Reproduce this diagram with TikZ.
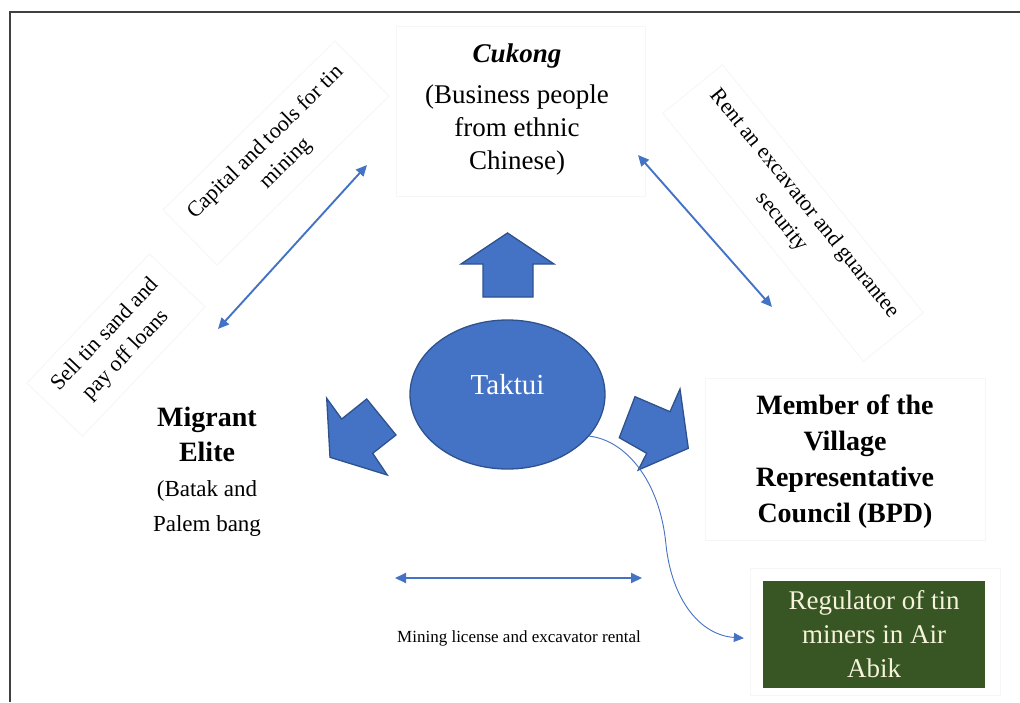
\documentclass[tikz,border=0pt]{standalone}
\usepackage{fontspec}
\setmainfont{Liberation Serif}
\usetikzlibrary{arrows.meta,shapes.geometric}
\definecolor{offblue}{HTML}{4472C4}
\definecolor{navyline}{HTML}{2F528F}
\definecolor{darkgreen}{HTML}{375623}
\definecolor{cream}{HTML}{F6F2DC}
\definecolor{faint}{HTML}{F6F6F6}
\tikzset{
  fs/.style 2 args={font=\fontsize{#1}{#2}\selectfont},
  faintbox/.style={draw=faint, line width=0.8pt},
  blocky/.style={fill=offblue, draw=navyline, line width=1.3pt, line join=miter},
  dblarrow/.style={draw=offblue, line width=1.9pt, {Triangle[length=11pt,width=10pt]}-{Triangle[length=11pt,width=10pt]}},
  thinarrow/.style={draw=offblue, line width=0.9pt, -{Triangle[length=10pt,width=9pt]}},
  difflabel/.style={align=center, fs={22}{29}, faintbox, inner xsep=16pt, inner ysep=14pt},
}
\begin{document}
\begin{tikzpicture}[x=1pt,y=-1pt]
\useasboundingbox (0,0) rectangle (1020,702);
\fill[white] (0,0) rectangle (1020,702);
% frame
\draw[line width=2pt, black!75] (9.5,702) -- (9.5,11.5) -- (1020,11.5);

% faint text boxes
\draw[faintbox] (396,26) rectangle (645,196);
\draw[faintbox] (705,378) rectangle (985,540);
\draw[faintbox] (750,568) rectangle (1000,695);

% main text nodes
\node[align=center, fs={27}{33}] (cukong) at (517,110)
  {\textbf{\textit{Cukong}}\\[8pt](Business people\\from ethnic\\Chinese)};
\node[align=center, fs={28}{35}] (migrant) at (207,472)
  {\textbf{Migrant}\\\textbf{Elite}\\{\fontsize{23}{35}\selectfont (Batak and}\\{\fontsize{23}{35}\selectfont Palem bang}};
\node[align=center, font=\bfseries\fontsize{28}{36}\selectfont] (member) at (845,462)
  {Member of the\\Village\\Representative\\Council (BPD)};
\node[align=center, fill=darkgreen, text=cream, minimum width=222pt, minimum height=107pt, inner sep=0pt, fs={27}{34}] (regulator) at (874,634.5)
  {Regulator of tin\\miners in Air\\Abik};

% Taktui ellipse
\node[ellipse, fill=offblue, draw=navyline, line width=1.3pt, minimum width=195pt, minimum height=149pt, inner sep=0pt, text=white, fs={29}{34}] (taktui) at (507.5,394.5)
  {\raisebox{0pt}[0pt][0pt]{Taktui}};

% block arrows
\draw[blocky] (507.5,233) -- (554,264) -- (533,264) -- (533,297) -- (483,297) -- (483,264) -- (461,264) -- cycle;
\draw[blocky] (330,457.3) -- (326.7,398.3) -- (341.7,419) -- (366.7,399) -- (396,435) -- (372.7,453.3) -- (387.3,475) -- cycle;
\draw[blocky] (688.3,448.3) -- (638.3,470) -- (646.7,453.3) -- (619.3,437.7) -- (635,396.7) -- (670,411.7) -- (680,389) -- cycle;

% rotated labels
\node[difflabel, rotate=44.5] (capital) at (276,153) {Capital and tools for tin\\mining};
\node[difflabel, rotate=46.5] (sell) at (116,345) {Sell tin sand and\\pay off loans};
\node[difflabel, rotate=-51] (rent) at (793,213) {Rent an excavator and guarantee\\security};

% double arrows
\coordinate (la) at (218,329);
\coordinate (lb) at (367,165);
\draw[dblarrow] (la) -- (lb);
\coordinate (ra) at (638,155);
\coordinate (rb) at (772,307);
\draw[dblarrow] (ra) -- (rb);
\coordinate (ha) at (395,578);
\coordinate (hb) at (642,578);
\draw[dblarrow] (ha) -- (hb);
\node[fs={17}{20}] (mining) at (519,638) {Mining license and excavator rental};

% curved arrow
\draw[thinarrow, shorten >=19pt] (taktui.-27) .. controls (625,440) and (660,480) .. (666,545)
  .. controls (672,600) and (700,635) .. ([yshift=-5pt]regulator.west);
\end{tikzpicture}
\end{document}
